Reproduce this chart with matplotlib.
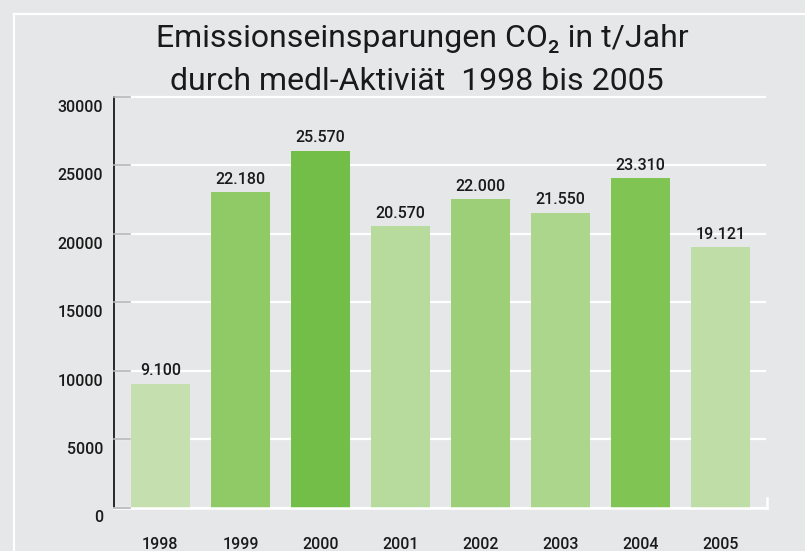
import matplotlib
matplotlib.use("Agg")
import matplotlib.pyplot as plt
import matplotlib.transforms as mtransforms
from matplotlib.lines import Line2D

years = ["1998", "1999", "2000", "2001", "2002", "2003", "2004", "2005"]
# bar heights as drawn in the picture
heights = [9050, 23050, 26050, 20560, 22530, 21530, 24060, 19030]
# value labels as printed above the bars
value_labels = ["9.100", "22.180", "25.570", "20.570", "22.000", "21.550", "23.310", "19.121"]
bar_colors = ["#c6dfae", "#8fca67", "#72be48", "#b6db9c", "#9dcf78", "#acd68b", "#80c454", "#bfdda6"]
yticks = [0, 5000, 10000, 15000, 20000, 25000, 30000]
title_lines = ["Emissionseinsparungen CO₂ in t/Jahr", "durch medl-Aktiviät  1998 bis 2005"]

W, H = 805, 551
BG = "#e6e7e8"
TXT = "#1a1a1a"
plt.rcParams['font.family'] = ['Roboto', 'DejaVu Sans']

fig = plt.figure(figsize=(W / 100, H / 100), dpi=100, facecolor=BG)

# white frame lines (top and left)
fig.add_artist(Line2D([13.5 / W, 1], [1 - 13.5 / H] * 2, color="white", lw=1.6,
                      transform=fig.transFigure))
fig.add_artist(Line2D([13.5 / W] * 2, [0, 1 - 13.5 / H], color="white", lw=1.6,
                      transform=fig.transFigure))

left, right, top, bottom = 114, 767, 97, 507.5
ax = fig.add_axes([left / W, 1 - bottom / H, (right - left) / W, (bottom - top) / H])
ax.set_facecolor(BG)

x = list(range(len(years)))
ax.set_xlim(-0.58, 7.58)
ax.set_ylim(0, 30000)

# gridlines
for t in yticks:
    ax.plot([-0.58, 7.55], [t, t], color="white", lw=1.6, zorder=1, clip_on=False)

bars = ax.bar(x, heights, width=0.74, color=bar_colors, zorder=2)
for xi, h, lab in zip(x, heights, value_labels):
    ax.annotate(lab, (xi, h), xytext=(0, 4), textcoords="offset points",
                ha="center", va="bottom", fontsize=11.5, color=TXT, fontweight="medium")

for s in ["top", "right", "bottom"]:
    ax.spines[s].set_visible(False)
ax.spines["left"].set_color(TXT)
ax.spines["left"].set_linewidth(1.3)

# bottom axis white line with small end tick
ax.plot([-0.58, 7.58], [0, 0], color="white", lw=1.8, zorder=3, clip_on=False)
ax.plot([7.58, 7.58], [0, 700], color="white", lw=1.8, zorder=3, clip_on=False)

# gray y tick marks
for t in yticks:
    ax.plot([-0.58, -0.38], [t, t], color="#b5b5b5", lw=1.2, zorder=3, clip_on=False)

ax.set_yticks(yticks)
ax.set_yticklabels([str(t) for t in yticks], fontsize=11.5, color=TXT, fontweight="medium")
ax.tick_params(axis="y", length=0, pad=8)
offset = mtransforms.ScaledTranslation(0, -9 / 100, fig.dpi_scale_trans)
for lbl in ax.get_yticklabels():
    lbl.set_transform(lbl.get_transform() + offset)

ax.set_xticks(x)
ax.set_xticklabels(years, fontsize=11.5, color=TXT, fontweight="medium")
ax.tick_params(axis="x", length=0, pad=21)

fig.text(422 / W, 1 - 47 / H, title_lines[0], ha="center", va="baseline",
         fontsize=23, color=TXT, fontweight="normal")
fig.text(417 / W, 1 - 90 / H, title_lines[1], ha="center", va="baseline",
         fontsize=23, color=TXT, fontweight="normal")

fig.savefig("out.png", dpi=100, facecolor=BG)
